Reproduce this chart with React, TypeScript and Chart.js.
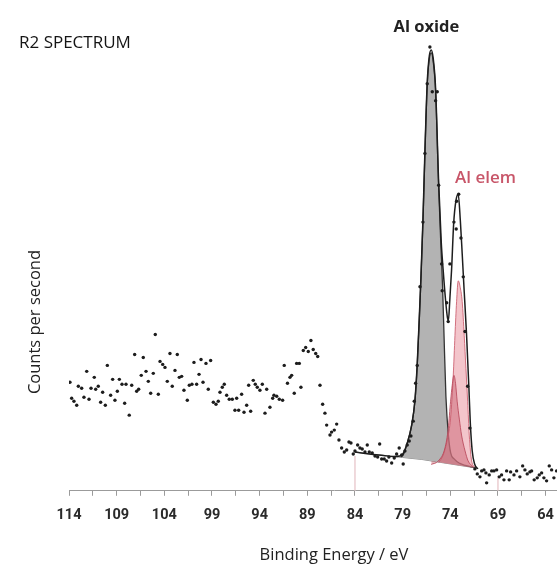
import { useEffect, useRef } from "react";
import { Chart, registerables } from "chart.js";

Chart.register(...registerables);

// ---- measured spectrum (binding energy in eV, counts per second in arbitrary units) ----
const scanEnergy = [
  113.9, 113.72, 113.48, 113.19, 113.02, 112.67, 112.43, 112.14, 111.9, 111.69,
  111.35, 111.2, 110.93, 110.68, 110.47, 110.19, 109.98, 109.63, 109.42, 109.18,
  108.93, 108.72, 108.44, 108.16, 108.02, 107.68, 107.42, 107.11, 106.9, 106.69,
  106.42, 106.21, 105.92, 105.68, 105.43, 105.16, 104.95, 104.63, 104.45, 104.17,
  103.93, 103.69, 103.41, 103.17, 102.88, 102.64, 102.43, 102.18, 101.94, 101.59,
  101.38, 101.1, 100.89, 100.61, 100.36, 100.15, 99.94, 99.63, 99.39, 99.14,
  98.86, 98.58, 98.34, 98.16, 97.92, 97.71, 97.46, 97.19, 96.87, 96.59,
  96.41, 96.2, 95.89, 95.64, 95.36, 95.15, 94.94, 94.67, 94.46, 94.25,
  93.97, 93.72, 93.44, 93.26, 92.92, 92.63, 92.5, 92.21, 91.94, 91.59,
  91.42, 91.08, 90.82, 90.64, 90.37, 90.12, 89.84, 89.67, 89.42, 89.17,
  88.9, 88.62, 88.38, 88.12, 87.91, 87.67, 87.39, 87.15, 86.97, 86.62,
  86.45, 86.17, 85.92, 85.68, 85.4, 85.12, 84.87, 84.63, 84.42, 84.18,
  84.0, 83.72, 83.48, 83.24, 82.95, 82.71, 82.5, 82.19, 81.9, 81.62,
  81.41, 81.2, 80.93, 80.68, 80.44, 80.15, 79.88, 79.63, 79.36, 79.1,
  78.94, 78.76, 78.52, 78.31, 78.13, 77.89, 77.78, 77.64, 77.47, 77.18,
  76.87, 76.66, 76.42, 76.14, 75.89, 75.54, 75.37, 75.22, 74.91, 74.85,
  74.38, 74.22, 74.04, 73.62, 73.38, 73.34, 73.12, 72.88, 72.64, 72.46,
  72.18, 71.94, 71.42, 71.17, 70.89, 70.71, 70.47, 70.26, 70.19, 69.92,
  69.66, 69.42, 69.14, 68.87, 68.62, 68.37, 68.09, 67.82, 67.67, 67.32,
  67.04, 66.7, 66.41, 66.17, 65.93, 65.65, 65.47, 65.2, 64.88, 64.67,
  64.42, 64.18, 63.9, 63.62, 63.37, 63.13, 62.85,
];
const scanCounts = [
  109, 93, 90, 86, 105, 103, 94, 120, 92, 103,
  114, 102, 105, 89, 99, 86, 126, 96, 112, 91,
  100, 112, 107, 88, 107, 76, 106, 137, 100, 102,
  116, 134, 120, 110, 98, 118, 157, 97, 130, 127,
  124, 110, 138, 105, 121, 137, 114, 115, 101, 91,
  106, 107, 129, 107, 117, 132, 109, 128, 102, 131,
  89, 87, 90, 99, 104, 107, 96, 92, 92, 81,
  93, 81, 97, 79, 86, 106, 80, 111, 107, 104,
  101, 107, 78, 102, 84, 93, 96, 95, 92, 91,
  126, 108, 114, 116, 98, 128, 128, 104, 141, 144,
  140, 151, 142, 138, 135, 106, 87, 78, 66, 56,
  59, 61, 67, 51, 43, 39, 41, 49, 48, 37,
  40, 46, 43, 42, 39, 46, 39, 38, 35, 34,
  47, 32, 32, 30, 34, 28, 33, 37, 43, 36,
  27, 40, 46, 50, 55, 70, 90, 108, 126, 205,
  270, 339, 409, 446, 401, 392, 401, 307, 228, 201,
  189, 170, 228, 270, 263, 291, 298, 254, 215, 160,
  105, 63, 22, 17, 14, 20, 21, 18, 8, 16,
  20, 20, 21, 14, 16, 11, 20, 11, 19, 16,
  20, 14, 25, 21, 17, 19, 20, 11, 13, 16,
  18, 13, 10, 25, 21, 13, 20,
];

// ---- fit: envelope, components and background ----
const envelopeEnergy = [
  84.0, 82.5, 81.0, 80.0, 79.3, 78.94, 78.58, 78.05, 77.71, 77.47,
  77.25, 77.08, 76.87, 76.66, 76.42, 76.2, 76.0, 75.8, 75.54, 75.23,
  74.95, 74.75, 74.5, 74.3, 74.2, 74.05, 73.86, 73.65, 73.4, 73.17,
  72.95, 72.75, 72.54, 72.3, 72.05, 71.9, 71.7, 71.45, 71.1,
];
const envelopeCounts = [
  39, 37, 35.5, 34.5, 35, 37.5, 46, 66, 91, 127,
  175, 214, 272, 342, 410, 437, 443, 435, 404, 312,
  250, 222, 192, 174, 171, 192, 223, 268, 292, 298,
  272, 238, 200, 158, 104, 68, 40, 27, 22,
];

const oxideEnergy = [
  79.2, 78.94, 78.58, 78.05, 77.71, 77.47, 77.25, 77.08, 76.87, 76.66,
  76.42, 76.2, 76.0, 75.8, 75.54, 75.23, 75.0, 74.81, 74.67, 74.46,
  74.21, 73.96, 73.6, 73.0, 72.4, 71.8, 71.2,
];
const oxideCounts = [
  34, 36, 46, 66, 90, 126, 172, 213, 270, 340,
  408, 434, 440, 432, 401, 308, 250, 205, 160, 95,
  57, 38, 32, 27.5, 25.5, 24, 23,
];

const elem32Energy = [75.2, 74.74, 74.3, 73.97, 73.69, 73.51, 73.34, 73.17, 72.95, 72.75, 72.54, 72.36, 72.18, 72.01, 71.76, 71.4];
const elem32Counts = [28.5, 36, 52, 73, 116, 156, 190, 211, 204, 190, 156, 123, 90, 56, 30, 23.5];

const elem12Energy = [76.0, 75.26, 74.56, 74.21, 73.97, 73.8, 73.62, 73.45, 73.28, 73.05, 72.82, 72.45, 72.13, 71.6];
const elem12Counts = [26.5, 30, 43, 63, 90, 106, 116, 108, 90, 72, 56, 40, 30, 24];

const backgroundEnergy = [84, 82, 80, 79, 78, 77, 76, 75, 74, 73, 72, 71.2];
const backgroundCounts = [39, 36.5, 34.5, 33.5, 32.5, 31.5, 30, 28.5, 27, 25.5, 24, 23];

// region limits of the fit (eV) and the height of their markers
const regionLimits = [84, 69];
const regionMarkerTops = [35, 13];

// ---- axis ----
const xTickValues = [
  114, 111.5, 109, 106.5, 104, 101.5, 99, 96.5, 94, 91.5, 89, 86.5, 84, 81.5,
  79, 76.5, 74, 71.5, 69, 66.5, 64, 61.5,
];
const xLabelValues = [114, 109, 104, 99, 94, 89, 84, 79, 74, 69, 64];

// ---- texts ----
const peakLabels = [
  { text: "Al oxide", energy: 76.5, counts: 466 },
  { text: "Al elem", energy: 70.3, counts: 314 },
];

const pts = (xs: number[], ys: number[]) => xs.map((x, i) => ({ x, y: ys[i] }));

const SANS = "'Open Sans', 'Noto Sans', sans-serif";
const NARROW = "'Liberation Sans Narrow', Roboto, 'Liberation Sans', sans-serif";

const textPlugin = {
  id: "freeTexts",
  afterDraw(chart: any) {
    const { ctx, scales } = chart;
    ctx.save();
    ctx.textBaseline = "middle";
    // chart title
    ctx.font = `17px ${SANS}`;
    ctx.fillStyle = "#141414";
    ctx.textAlign = "left";
    ctx.fillText("R2 SPECTRUM", 19, 43);
    // y axis title
    ctx.save();
    ctx.translate(35, 322);
    ctx.rotate(-Math.PI / 2);
    ctx.textAlign = "center";
    ctx.font = `16.5px ${SANS}`;
    ctx.fillStyle = "#222";
    ctx.fillText("Counts per second", 0, 0);
    ctx.restore();
    // peak labels
    ctx.textAlign = "center";
    peakLabels.forEach((p, i) => {
      ctx.font = i === 0 ? `bold 16.5px ${SANS}` : `600 17px ${SANS}`;
      ctx.fillStyle = i === 0 ? "#222" : "#c85669";
      ctx.fillText(p.text, scales.x.getPixelForValue(p.energy), scales.y.getPixelForValue(p.counts));
    });
    ctx.restore();
  },
};

const BG_INDEX = 5;

export default function App() {
  const ref = useRef<HTMLCanvasElement>(null);
  useEffect(() => {
    if (!ref.current) return;
    const chart = new Chart(ref.current, {
      type: "line",
      data: {
        datasets: [
          {
            label: "data",
            data: pts(scanEnergy, scanCounts),
            showLine: false,
            pointRadius: 1.7,
            pointBorderWidth: 0,
            pointBackgroundColor: "#1d1d1d",
            borderColor: "#1d1d1d",
          },
          {
            label: "envelope",
            data: pts(envelopeEnergy, envelopeCounts),
            borderColor: "#1e1e1e",
            borderWidth: 1.5,
            pointRadius: 0,
            cubicInterpolationMode: "monotone",
            fill: false,
          },
          {
            label: "Al elem 2p1/2",
            data: pts(elem12Energy, elem12Counts),
            borderColor: "rgba(185,72,90,0.85)",
            borderWidth: 1,
            backgroundColor: "rgba(196,84,100,0.42)",
            pointRadius: 0,
            cubicInterpolationMode: "monotone",
            fill: BG_INDEX,
          },
          {
            label: "Al elem 2p3/2",
            data: pts(elem32Energy, elem32Counts),
            borderColor: "rgba(205,100,115,0.9)",
            borderWidth: 1,
            backgroundColor: "rgba(234,150,160,0.55)",
            pointRadius: 0,
            cubicInterpolationMode: "monotone",
            fill: BG_INDEX,
          },
          {
            label: "Al oxide",
            data: pts(oxideEnergy, oxideCounts),
            borderColor: "#333333",
            borderWidth: 1.3,
            backgroundColor: "#b3b3b3",
            pointRadius: 0,
            cubicInterpolationMode: "monotone",
            fill: BG_INDEX,
          },
          {
            label: "background",
            data: pts(backgroundEnergy, backgroundCounts),
            borderColor: "rgba(80,80,80,0.75)",
            borderWidth: 0.9,
            pointRadius: 0,
            fill: false,
          },
          ...regionLimits.map((e, i) => ({
            label: `limit ${e}`,
            data: [
              { x: e, y: 0 },
              { x: e, y: regionMarkerTops[i] },
            ],
            borderColor: "#ebcdd1",
            borderWidth: 1.5,
            pointRadius: 0,
            fill: false,
          })),
        ],
      },
      options: {
        animation: false,
        responsive: false,
        devicePixelRatio: 1,
        layout: { padding: { left: 69, top: 33, right: 12, bottom: 0 } },
        plugins: { legend: { display: false }, tooltip: { enabled: false }, title: { display: false } },
        scales: {
          x: {
            type: "linear",
            reverse: true,
            min: 58.4,
            max: 114,
            afterBuildTicks: (axis: any) => {
              axis.ticks = xTickValues.map((v) => ({ value: v }));
            },
            ticks: {
              autoSkip: false,
              maxRotation: 0,
              padding: 11,
              color: "#2a2a2a",
              font: { family: NARROW, size: 14.5, weight: "bold" },
              callback: (v: any) => (xLabelValues.includes(Number(v)) ? String(v) : ""),
            },
            grid: { display: true, drawOnChartArea: false, drawTicks: true, tickLength: 5, color: "#9b9b9b", lineWidth: 1 },
            border: { display: true, color: "#9b9b9b", width: 1 },
            title: {
              display: true,
              text: "Binding Energy / eV",
              color: "#222",
              font: { family: SANS, size: 16.5 },
              padding: { top: 10, bottom: 1 },
            },
          },
          y: {
            display: false,
            min: 0,
            max: 460,
          },
        },
      },
      plugins: [textPlugin],
    } as any);
    return () => chart.destroy();
  }, []);
  return (
    <div
      style={{
        position: "fixed",
        left: 0,
        top: 0,
        width: 557,
        height: 566,
        overflow: "hidden",
        background: "#fff",
      }}
    >
      <canvas ref={ref} width={611} height={566} style={{ display: "block", width: 611, height: 566 }} />
    </div>
  );
}
